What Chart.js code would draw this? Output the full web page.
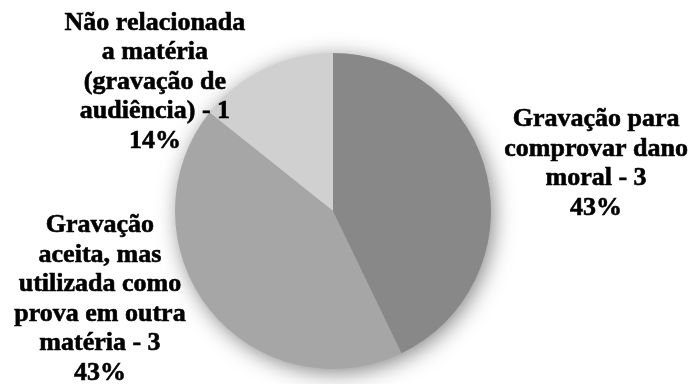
<!DOCTYPE html>
<html>
<head>
<meta charset="utf-8">
<script src="https://cdn.jsdelivr.net/npm/chart.js@4"></script>
<style>
    html, body { margin: 0; padding: 0; background: #fff; }
    #wrap { width: 690px; height: 384px; }
</style>
</head>
<body>
<div id="wrap"><canvas id="chart"></canvas></div>
<script>
const categories = [
    "Gravação para comprovar dano moral",
    "Gravação aceita, mas utilizada como prova em outra matéria",
    "Não relacionada a matéria (gravação de audiência)"
];
const counts = [3, 3, 1];
const sliceColors = ['#888888', '#a6a6a6', '#d0d0d0'];

// label placement, relative to pie center in units of radius, and wrap width
const labelOffsets = [[1.665, -0.3], [-1.475, 0.56], [-1.127, -0.815]];
const labelWidths = [195, 175, 185];

const total = counts.reduce((a, b) => a + b, 0);

function wrapText(ctx, text, maxWidth) {
    const words = text.split(' ');
    const lines = [];
    let line = '';
    words.forEach(w => {
        const test = line ? line + ' ' + w : w;
        if (line && ctx.measureText(test).width > maxWidth) {
            lines.push(line);
            line = w;
        } else {
            line = test;
        }
    });
    if (line) lines.push(line);
    return lines;
}

const shadowPlugin = {
    id: 'pieShadow',
    beforeDatasetsDraw(chart) {
        const arc = chart.getDatasetMeta(0).data[0];
        if (!arc) return;
        const ctx = chart.ctx;
        ctx.save();
        ctx.shadowColor = 'rgba(0,0,0,0.5)';
        ctx.shadowBlur = 22;
        ctx.shadowOffsetX = 3;
        ctx.shadowOffsetY = 4;
        ctx.fillStyle = sliceColors[0];
        ctx.beginPath();
        ctx.arc(arc.x, arc.y, arc.outerRadius - 1, 0, Math.PI * 2);
        ctx.fill();
        ctx.restore();
    }
};

const labelPlugin = {
    id: 'sliceLabels',
    afterDatasetsDraw(chart) {
        const ctx = chart.ctx;
        const arcs = chart.getDatasetMeta(0).data;
        ctx.save();
        ctx.font = 'bold 26px "Liberation Serif", "Times New Roman", serif';
        ctx.fillStyle = '#000';
        ctx.strokeStyle = '#000';
        ctx.lineWidth = 0.6;
        ctx.textAlign = 'center';
        ctx.textBaseline = 'middle';
        const lineH = 29.5;
        arcs.forEach((arc, i) => {
            const pct = Math.round(counts[i] / total * 100) + '%';
            const lines = wrapText(ctx, categories[i] + ' - ' + counts[i], labelWidths[i]);
            lines.push(pct);
            const cx = arc.x + labelOffsets[i][0] * arc.outerRadius;
            const cy = arc.y + labelOffsets[i][1] * arc.outerRadius;
            const y0 = cy - (lines.length - 1) * lineH / 2;
            lines.forEach((l, k) => {
                ctx.fillText(l, cx, y0 + k * lineH);
                ctx.strokeText(l, cx, y0 + k * lineH);
            });
        });
        ctx.restore();
    }
};

new Chart(document.getElementById('chart'), {
    type: 'pie',
    data: {
        labels: categories,
        datasets: [{
            data: counts,
            backgroundColor: sliceColors,
            borderWidth: 0
        }]
    },
    options: {
        responsive: true,
        maintainAspectRatio: false,
        animation: false,
        layout: {
            padding: { top: 53, bottom: 15, left: 150, right: 174 }
        },
        plugins: {
            legend: { display: false },
            tooltip: { enabled: false }
        }
    },
    plugins: [shadowPlugin, labelPlugin]
});
</script>
</body>
</html>
